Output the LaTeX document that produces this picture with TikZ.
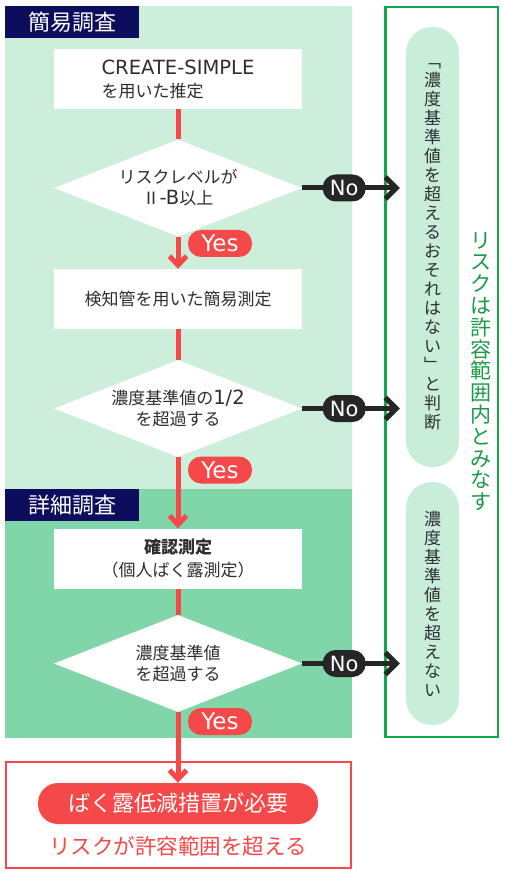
\documentclass[tikz,border=0pt]{standalone}
\usepackage{fontspec}
\setmainfont{Noto Sans CJK JP}
\newfontfamily\lat{DejaVu Sans}[Scale=1.15]
\newfontfamily\latn{DejaVu Sans}
\usetikzlibrary{shapes.geometric,positioning,arrows.meta}

\definecolor{simplegreen}{HTML}{CCEEDB}
\definecolor{detailgreen}{HTML}{80D6A8}
\definecolor{tagnavy}{HTML}{0D0D5E}
\definecolor{flowred}{HTML}{F54848}
\definecolor{noblack}{HTML}{262626}
\definecolor{okgreen}{HTML}{12A64D}
\definecolor{oktext}{HTML}{1B9A48}
\definecolor{judgegreen}{HTML}{C8EEDA}
\definecolor{textgray}{HTML}{2E2E2E}

\begin{document}
\begin{tikzpicture}[x=1pt,y=-1pt,on grid,
    region/.style={rectangle,inner sep=0pt,anchor=north west,minimum width=347pt},
    stagetag/.style={rectangle,fill=tagnavy,text=white,inner sep=0pt,anchor=north west,
        minimum width=134pt,minimum height=32pt,font=\fontsize{22}{22}\selectfont},
    procbox/.style={rectangle,fill=white,inner sep=0pt,minimum width=248pt,minimum height=60pt,
        text=textgray,font=\fontsize{17}{23}\selectfont},
    decision/.style={diamond,fill=white,aspect=2.56,inner sep=0pt,minimum width=248pt,
        minimum height=97pt,align=center,text=textgray,font=\fontsize{17}{21}\selectfont},
    yestag/.style={rectangle,rounded corners=13pt,fill=flowred,text=white,inner sep=0pt,
        minimum width=64pt,minimum height=27pt,font=\latn\fontsize{23}{23}\selectfont},
    notag/.style={rectangle,rounded corners=13pt,fill=noblack,text=white,inner sep=0pt,
        minimum width=43pt,minimum height=27pt,font=\latn\fontsize{21}{21}\selectfont},
    judge/.style={rectangle,rounded corners=26pt,fill=judgegreen,inner sep=0pt,minimum width=53pt,
        align=center,text=textgray,font=\fontsize{17}{19}\selectfont},
    yesline/.style={draw=flowred,line width=5pt},
    yesarrow/.style={yesline,-{Straight Barb[length=9pt,width=17pt]}},
    noline/.style={draw=noblack,line width=5pt,-{Straight Barb[length=11pt,width=22pt]}}
]
    \useasboundingbox (0,0) rectangle (504,874);

    % stages
    \node[region,fill=simplegreen,minimum height=483pt] (simple) at (5,6) {};
    \node[region,fill=detailgreen,minimum height=249pt] (detail) at (5,489) {};
    \node[stagetag] (simpletag) at (simple.north west) {簡易調査};
    \node[stagetag] (detailtag) at (detail.north west) {詳細調査};

    % flow
    \node[procbox,align=left] (estimate) at (178,79) {{\lat CREATE-SIMPLE}\\を用いた推定};
    \node[decision] (level) [below=109pt of estimate] {リスクレベルが\\Ⅱ{\lat -B}以上};
    \node[procbox] (tube) [below=111pt of level] {検知管を用いた簡易測定};
    \node[decision] (half) [below=109.5pt of tube] {濃度基準値の{\lat 1/2}\\を超過する};
    \node[procbox,align=center] (confirm) [below=150pt of half] {\textbf{確認測定}\\（個人ばく露測定）};
    \node[decision] (limit) [below=105pt of confirm] {濃度基準値\\を超過する};

    % result
    \node[draw=flowred,line width=2pt,minimum width=345pt,minimum height=106pt] (result) at (178.5,815) {};
    \node[rectangle,rounded corners=20pt,fill=flowred,text=white,minimum width=280pt,minimum height=41pt,
        font=\fontsize{22}{22}\selectfont] (action) at (178,803.5) {ばく露低減措置が必要};
    \node[text=flowred,font=\fontsize{21.5}{21.5}\selectfont] (exceed) at (178,846) {リスクが許容範囲を超える};

    % acceptable side
    \node[draw=okgreen,line width=2.5pt,minimum width=112.5pt,minimum height=729.5pt] (accept) at (441.5,372) {};
    \node[judge,minimum height=440pt] (judgeA) at (432.5,247)
        {﹁\\濃\\度\\基\\準\\値\\を\\超\\え\\る\\お\\そ\\れ\\は\\な\\い\\﹂\\と\\判\\断};
    \node[judge,minimum height=243pt] (judgeB) at (432.5,603.5)
        {濃\\度\\基\\準\\値\\を\\超\\え\\な\\い};
    \node[text=oktext,align=center,font=\fontsize{21}{21.8}\selectfont] (verdict) at (481,371.5)
        {リ\\ス\\ク\\は\\許\\容\\範\\囲\\内\\と\\み\\な\\す};

    % connectors
    \draw[yesline] (estimate) -- (level);
    \draw[yesarrow] (level) -- (tube);
    \draw[yesline] (tube) -- (half);
    \draw[yesarrow] (half) -- (confirm);
    \draw[yesline] (confirm) -- (limit);
    \draw[yesarrow] (limit) -- (action);

    \node[yestag] (yesA) at (220,243.5) {Yes};
    \node[yestag] (yesB) at (220,470) {Yes};
    \node[yestag] (yesC) at (220,721.5) {Yes};

    \draw[noline] (level.east) -- ([xshift=-6pt]level.east -| judgeA.west) node[notag,pos=0.43] (noA) {No};
    \draw[noline] (half.east) -- ([xshift=-6pt]half.east -| judgeA.west) node[notag,pos=0.43] (noB) {No};
    \draw[noline] (limit.east) -- ([xshift=-6pt]limit.east -| judgeB.west) node[notag,pos=0.43] (noC) {No};
\end{tikzpicture}
\end{document}
